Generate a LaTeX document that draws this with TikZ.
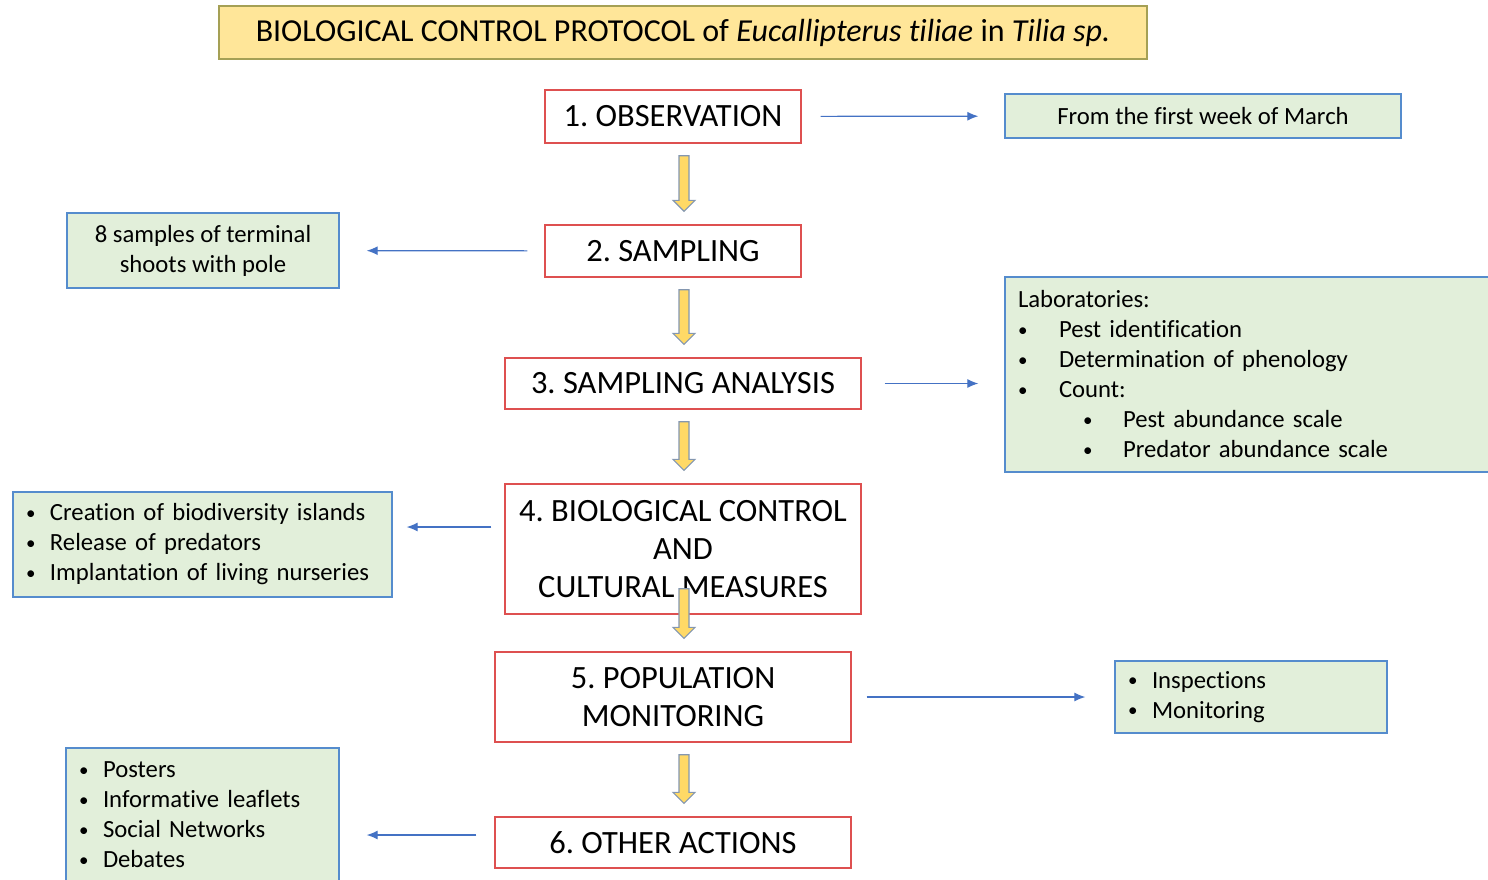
\documentclass[tikz,border=0pt]{standalone}
\usepackage{fontspec}
\setmainfont[Ligatures=NoCommon]{Carlito}
\usepackage{tikz}
\usetikzlibrary{arrows.meta}
\usetikzlibrary{calc}
\usetikzlibrary{positioning}
\frenchspacing

\definecolor{titlefill}{RGB}{255,230,153}
\definecolor{titleline}{RGB}{165,160,85}
\definecolor{stepline}{RGB}{222,80,80}
\definecolor{notefill}{RGB}{226,239,218}
\definecolor{noteline}{RGB}{85,140,205}
\definecolor{arrowblue}{RGB}{68,114,196}
\definecolor{arrowfill}{RGB}{255,217,102}
\definecolor{arrowline}{RGB}{132,151,176}

\newcommand{\bul}[1][24pt]{\makebox[#1][l]{\raisebox{1.5pt}{\fontsize{19}{19}\selectfont\textbullet}}}
% yellow block arrow between two steps
\newcommand{\yarrow}[3][-12pt]{%
    \draw[yarrow] let \p1 = ([yshift=#1]#2.south), \p2 = ([yshift=13pt]#3.north) in
        (679pt, \y1) -- (679pt, \y2+11pt) -- (673pt, \y2+11pt) -- (684pt, \y2)
        -- (695pt, \y2+11pt) -- (689pt, \y2+11pt) -- (689pt, \y1) -- cycle;}

\begin{document}
\begin{tikzpicture}[x=1pt, y=-1pt,
        titlebox/.style={draw=titleline, line width=1.2pt, fill=titlefill, font=\fontsize{32}{36}\selectfont},
        stepbox/.style={draw=stepline, line width=1.3pt, fill=white, align=center, inner sep=0pt,
            font=\fontsize{32.5}{38}\selectfont},
        notebox/.style={draw=noteline, line width=1.3pt, fill=notefill, inner xsep=13pt, inner ysep=0pt,
            font=\fontsize{24.7}{30}\selectfont},
        barrow/.style={draw=arrowblue, line width=1.2pt, -{Latex[length=11pt, width=9pt]}},
        yarrow/.style={draw=arrowline, fill=arrowfill, line width=1.2pt}]
    \useasboundingbox (0,0) rectangle (1488,879);

    \node[titlebox, minimum width=928pt, minimum height=53pt] (title) at (683,32.5)
        {BIOLOGICAL CONTROL PROTOCOL of \textit{Eucallipterus tiliae} in \textit{Tilia sp.}};

    % steps
    \node[stepbox, minimum width=256pt, minimum height=53pt] (obs) at (673,116.5) {1. OBSERVATION};
    \node[stepbox, minimum width=256pt, minimum height=52pt] (samp) at (673,251) {2. SAMPLING};
    \node[stepbox, minimum width=356pt, minimum height=51pt] (anal) at (683,383.5) {3. SAMPLING ANALYSIS};
    \node[stepbox, minimum width=356pt, minimum height=130pt] (bio) at (683,549)
        {4. BIOLOGICAL CONTROL\\AND\\CULTURAL MEASURES};
    \node[stepbox, minimum width=356pt, minimum height=90pt] (pop) at (673,697) {5. POPULATION\\MONITORING};
    \node[stepbox, minimum width=356pt, minimum height=51pt] (other) at (673,842.5) {6. OTHER ACTIONS};

    % notes
    \node[notebox, align=center, minimum width=396pt, minimum height=44pt] (march) at (1203,116)
        {From the first week of March};
    \node[notebox, align=center, minimum width=272pt, minimum height=75pt] (samples) at (203,250.5)
        {8 samples of terminal\\shoots with pole};
    \node[notebox, align=left, text width=474pt, minimum height=195pt] (labs) at (1255,374.5)
        {Laboratories:\\
        \bul[41pt]Pest identification\\
        \bul[41pt]Determination of phenology\\
        \bul[41pt]Count:\\
        \hspace*{65pt}\bul[40pt]Pest abundance scale\\
        \hspace*{65pt}\bul[40pt]Predator abundance scale};
    \node[notebox, align=left, text width=353pt, minimum height=105pt] (biodiv) at (202.5,544.5)
        {\bul Creation of biodiversity islands\\
        \bul Release of predators\\
        \bul Implantation of living nurseries};
    \node[notebox, align=left, text width=246pt, minimum height=72pt] (insp) at (1251,697)
        {\bul Inspections\\
        \bul Monitoring};
    \node[notebox, align=left, text width=247pt, minimum height=134pt] (posters) at (202.5,815)
        {\bul Posters\\
        \bul Informative leaflets\\
        \bul Social Networks\\
        \bul Debates};

    % yellow arrows
    \yarrow{obs}{samp}
    \yarrow{samp}{anal}
    \yarrow{anal}{bio}
    \yarrow[26pt]{bio}{pop}
    \yarrow{pop}{other}

    % blue arrows
    \coordinate (analout) at (anal.east);
    \coordinate (bioout) at ([yshift=22pt]bio.west);
    \coordinate (otherout) at ([yshift=7.5pt]other.west);
    \draw[barrow, shorten <=19pt, shorten >=26pt] (obs) -- (march);
    \draw[barrow, shorten <=17pt, shorten >=27pt] (samp) -- (samples);
    \draw[barrow, shorten <=23pt, shorten >=26pt] (analout) -- (analout -| labs.west);
    \draw[barrow, shorten <=13pt, shorten >=14pt] (bioout) -- (bioout -| biodiv.east);
    \draw[barrow, shorten <=15pt, shorten >=29pt] (pop) -- (insp);
    \draw[barrow, shorten <=18pt, shorten >=27pt] (otherout) -- (otherout -| posters.east);
\end{tikzpicture}
\end{document}
